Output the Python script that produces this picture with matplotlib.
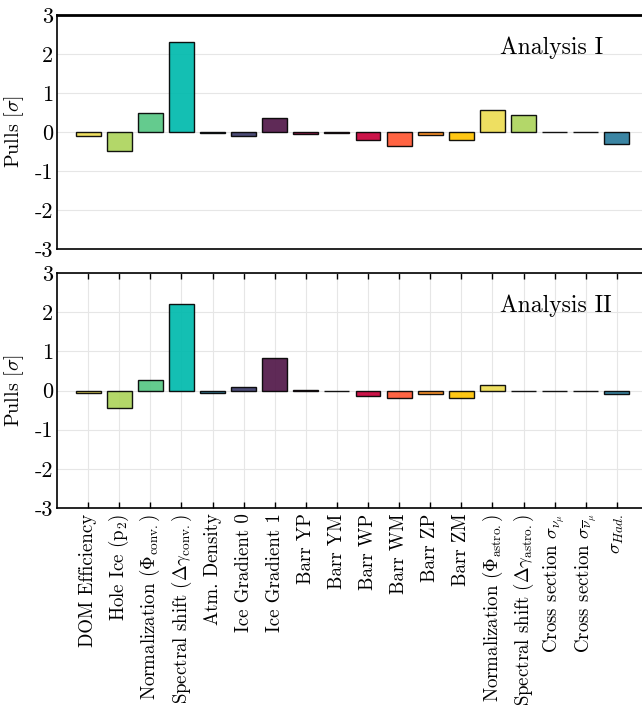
import matplotlib
matplotlib.use("Agg")
import matplotlib.pyplot as plt
import numpy as np

plt.rcParams['font.family'] = 'serif'
plt.rcParams['font.serif'] = ['cmr10']
plt.rcParams['mathtext.fontset'] = 'cm'
plt.rcParams['axes.unicode_minus'] = False
plt.rcParams['axes.formatter.use_mathtext'] = False

labels = [
    "DOM Efficiency",
    r"Hole Ice ($\mathrm{p}_2$)",
    r"Normalization ($\Phi_{\mathrm{conv.}}$)",
    r"Spectral shift ($\Delta\gamma_{\mathrm{conv.}}$)",
    "Atm. Density",
    "Ice Gradient 0",
    "Ice Gradient 1",
    "Barr YP",
    "Barr YM",
    "Barr WP",
    "Barr WM",
    "Barr ZP",
    "Barr ZM",
    r"Normalization ($\Phi_{\mathrm{astro.}}$)",
    r"Spectral shift ($\Delta\gamma_{\mathrm{astro.}}$)",
    r"Cross section $\sigma_{\nu_\mu}$",
    r"Cross section $\sigma_{\overline{\nu}_\mu}$",
    r"$\sigma_{Had.}$",
]

pulls_1 = [-0.10, -0.48, 0.48, 2.30, -0.02, -0.10, 0.35, -0.05, -0.02,
           -0.20, -0.37, -0.08, -0.21, 0.56, 0.44, 0.00, -0.01, -0.30]
pulls_2 = [-0.07, -0.45, 0.28, 2.22, -0.06, 0.08, 0.84, 0.02, 0.00,
           -0.13, -0.18, -0.08, -0.20, 0.15, 0.00, 0.00, 0.00, -0.08]

yticks = [-3, -2, -1, 0, 1, 2, 3]
ytick_labels = ["-3", "-2", "-1", "0", "1", "2", "3"]

palette = ['#EDDD53', '#ADD45C', '#57C785', '#00BAAD', '#2A7B9B',
           '#3D3D6B', '#511849', '#900C3F', '#AC0540', '#C70039',
           '#FF5733', '#FF8D1A', '#FFC300']
colors = [palette[i % len(palette)] for i in range(len(labels))]

x = np.arange(len(labels))

fig = plt.figure(figsize=(6.42, 7.11), dpi=100)
ax1 = fig.add_axes([0.0888, 0.6498, 0.9205, 0.3294])
ax2 = fig.add_axes([0.0888, 0.2855, 0.9205, 0.3305])

for ax, pulls, name in [(ax1, pulls_1, "Analysis I"), (ax2, pulls_2, "Analysis II")]:
    ax.bar(x, pulls, width=0.8, color=colors, edgecolor='black',
           linewidth=1.0, alpha=0.92, zorder=3)
    ax.set_xlim(-1, 18)
    ax.set_ylim(-3, 3)
    ax.set_yticks(yticks)
    ax.set_yticklabels(ytick_labels)
    ax.tick_params(axis='y', labelsize=16, length=0, pad=3)
    ax.set_ylabel(r"Pulls [$\sigma$]", fontsize=14.5)
    ax.yaxis.set_label_coords(-0.052, 0.5)
    ax.text(0.75, 0.86, name, transform=ax.transAxes, fontsize=17,
            va='center', ha='left')
    for s in ax.spines.values():
        s.set_linewidth(1.2)

# top panel: horizontal grid only, no x ticks
ax1.grid(axis='y', color='#e6e6e6', linewidth=0.8, zorder=0)
ax1.set_xticks([])
ax1.spines['top'].set_linewidth(2.0)

# bottom panel: full grid, ticks on both horizontal spines
ax2.grid(True, color='#e6e6e6', linewidth=0.8, zorder=4)
ax2.set_xticks(x)
ax2.set_xticklabels(labels, rotation=90, fontsize=13.6)
ax2.tick_params(axis='x', direction='in', length=4, width=1.0,
                top=True, bottom=True, pad=4)

fig.savefig("out.png", dpi=100)
